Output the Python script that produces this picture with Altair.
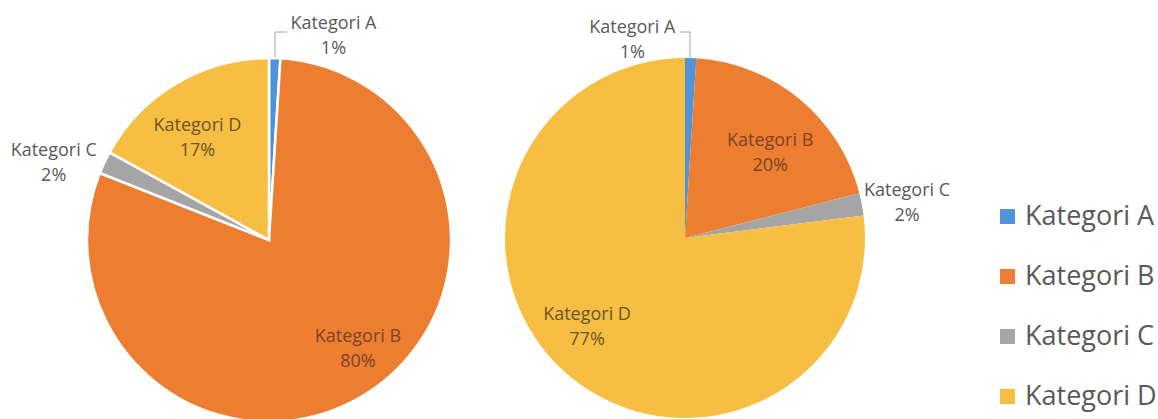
import altair as alt
import pandas as pd

categories = ["Kategori A", "Kategori B", "Kategori C", "Kategori D"]
left_values = [1, 80, 2, 17]
right_values = [1, 20, 2, 77]
colors = ["#4f94d8", "#ed7d31", "#a5a5a5", "#f6bf43"]

FONT = "Open Sans"


def frame(values):
    return pd.DataFrame({"category": categories, "value": values, "order": list(range(len(values)))})


left_df = frame(left_values)
right_df = frame(right_values)

theta_scale = alt.Scale(domain=[0, 100])
color_scale = alt.Scale(domain=categories, range=colors)


def pie(df, cx, cy, r, sw):
    return alt.Chart(df).mark_arc(stroke="white", strokeWidth=sw).encode(
        theta=alt.Theta("value:Q", stack=True, scale=theta_scale),
        color=alt.Color(
            "category:N",
            scale=color_scale,
            title=None,
            legend=alt.Legend(
                orient="none",
                legendX=994,
                legendY=203,
                symbolType="square",
                symbolSize=225,
                symbolStrokeWidth=0,
                labelFont=FONT,
                labelFontSize=27,
                labelColor="#595959",
                labelOffset=4,
                rowPadding=32,
                labelLimit=300,
            ),
        ),
        order=alt.Order("order:Q"),
        x=alt.value(cx),
        y=alt.value(cy),
        radius=alt.value(r),
    )


def label(df, cat, cx, cy, radius, dx, dy, color):
    return (
        alt.Chart(df)
        .transform_window(cum="sum(value)", sort=[alt.SortField("order")])
        .transform_calculate(
            mid="datum.cum - datum.value / 2",
            txt="datum.category + '|' + datum.value + '%'",
        )
        .transform_filter(alt.datum.category == cat)
        .mark_text(
            font=FONT,
            fontSize=18,
            lineBreak="|",
            lineHeight=25,
            color=color,
            dx=dx,
            dy=dy,
            align="center",
            baseline="middle",
        )
        .encode(
            theta=alt.Theta("mid:Q", stack=False, scale=theta_scale),
            x=alt.value(cx),
            y=alt.value(cy),
            radius=alt.value(radius),
            text="txt:N",
        )
    )


def rule(x1, x2, y1, y2):
    return alt.Chart(left_df.head(1)).mark_rule(color="#a6a6a6", strokeWidth=1).encode(
        x=alt.value(x1), x2=alt.value(x2), y=alt.value(y1), y2=alt.value(y2)
    )


LCX, LCY, LR = 269, 240, 182
RCX, RCY, RR = 685, 238, 180

OUT = "#595959"
ON_Y = "#6b5324"
ON_O = "#7a4426"

SHIFT = -11

layers = [
    pie(left_df, LCX, LCY, LR, 2.5),
    pie(right_df, RCX, RCY, RR, 0),
    label(left_df, "Kategori A", LCX, LCY, 205, 58, 0 + SHIFT, OUT),
    label(left_df, "Kategori B", LCX, LCY, 138, 15, -9 + SHIFT, ON_O),
    label(left_df, "Kategori C", LCX, LCY, 228, -9, 19 + SHIFT, OUT),
    label(left_df, "Kategori D", LCX, LCY, 125, -8, 5 + SHIFT, ON_Y),
    label(right_df, "Kategori A", RCX, RCY, 199, -59, 0 + SHIFT, OUT),
    label(right_df, "Kategori B", RCX, RCY, 121, 8, 7 + SHIFT, ON_O),
    label(right_df, "Kategori C", RCX, RCY, 225, 1, 6 + SHIFT, OUT),
    label(right_df, "Kategori D", RCX, RCY, 130, -12, -10 + SHIFT, ON_Y),
    rule(275, 275, 57, 32),
    rule(275, 287, 32, 32),
    rule(680, 690, 32, 32),
    rule(690, 690, 32, 59),
]

chart = (
    alt.layer(*layers)
    .properties(width=1158, height=419, padding=0, autosize="none", background="white")
    .configure_view(strokeWidth=0)
)

chart.save("out.html", embed_options={"renderer": "svg", "actions": False})
